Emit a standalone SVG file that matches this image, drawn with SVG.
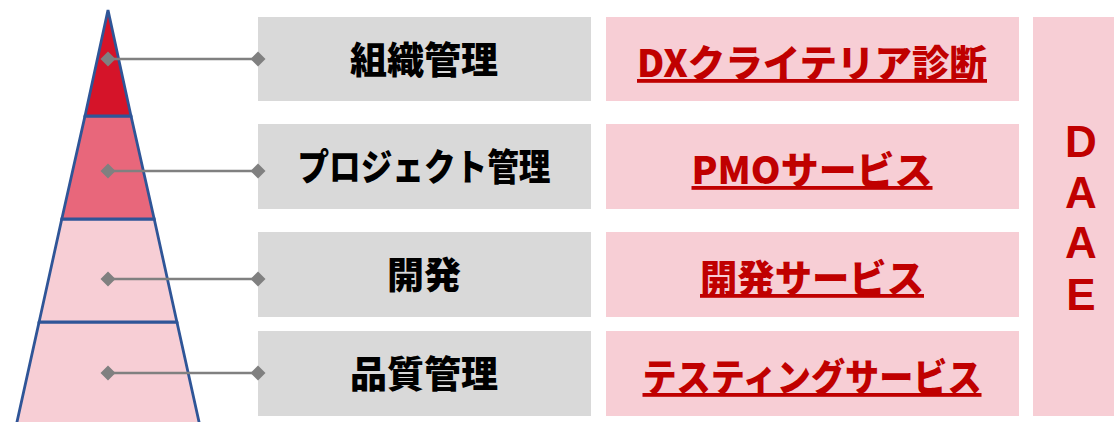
<svg xmlns="http://www.w3.org/2000/svg" width="1114" height="422" viewBox="0 0 1114 422">
<style>
.layer{stroke:#2F5597;stroke-width:2.8;stroke-linejoin:miter}
.gbox{fill:#D9D9D9}
.pbox{fill:#F7CED5}
.lbl{font-family:"Noto Sans CJK JP","Noto Sans",sans-serif;font-weight:900;font-size:37px;fill:#000;text-anchor:middle}
.svc{font-family:"Noto Sans CJK JP","Noto Sans",sans-serif;font-weight:900;font-size:38px;fill:#C00000;text-anchor:middle;text-decoration:underline}
.side{font-family:"Liberation Sans","Noto Sans",sans-serif;font-weight:bold;font-size:44px;fill:#C00000;text-anchor:middle}
.conn{stroke:#808080;stroke-width:2.5;fill:none;marker-start:url(#dia);marker-end:url(#dia)}
</style>
<defs>
<marker id="dia" viewBox="-8 -8 16 16" markerWidth="16" markerHeight="16" refX="0" refY="0" markerUnits="userSpaceOnUse" orient="auto">
<path d="M-7.5 0L0 -7.5L7.5 0L0 7.5Z" fill="#808080"/>
</marker>
</defs>
<g id="pyramid">
<polygon class="layer" points="39.1,322 176.9,322 200.8,430 15.2,430" fill="#F7CED5"/>
<polygon class="layer" points="61.8,219 154.2,219 176.9,322 39.1,322" fill="#F7CED5"/>
<polygon class="layer" points="85,116 131,116 154.2,219 61.8,219" fill="#E8677B"/>
<polygon class="layer" points="108,10 131,116 85,116" fill="#D51429"/>
</g>
<g id="row1">
<rect class="gbox" x="258" y="17" width="333" height="84"/>
<text class="lbl" x="424" y="74">組織管理</text>
</g>
<g id="row2">
<rect class="gbox" x="258" y="124" width="333" height="85"/>
<text class="lbl" x="424" y="181" textLength="253" lengthAdjust="spacingAndGlyphs">プロジェクト管理</text>
</g>
<g id="row3">
<rect class="gbox" x="258" y="232" width="333" height="85"/>
<text class="lbl" x="424" y="289">開発</text>
</g>
<g id="row4">
<rect class="gbox" x="258" y="331" width="333" height="85"/>
<text class="lbl" x="424" y="388">品質管理</text>
</g>
<g id="svc1">
<rect class="pbox" x="606" y="17" width="413" height="84"/>
<text class="svc" x="812" y="77" textLength="350" lengthAdjust="spacingAndGlyphs">DXクライテリア診断</text>
</g>
<g id="svc2">
<rect class="pbox" x="606" y="124" width="413" height="85"/>
<text class="svc" x="812" y="184" textLength="241" lengthAdjust="spacingAndGlyphs">PMOサービス</text>
</g>
<g id="svc3">
<rect class="pbox" x="606" y="232" width="413" height="85"/>
<text class="svc" x="812" y="292" textLength="224" lengthAdjust="spacingAndGlyphs">開発サービス</text>
</g>
<g id="svc4">
<rect class="pbox" x="606" y="331" width="413" height="85"/>
<text class="svc" x="812" y="391" textLength="339" lengthAdjust="spacingAndGlyphs">テスティングサービス</text>
</g>
<g id="daae">
<rect class="pbox" x="1033" y="17" width="100" height="399"/>
<text class="side" x="1081" y="157">D</text>
<text class="side" x="1081" y="208">A</text>
<text class="side" x="1081" y="258">A</text>
<text class="side" x="1081" y="310">E</text>
</g>
<g id="connectors">
<line class="conn" x1="108" y1="59" x2="258" y2="59"/>
<line class="conn" x1="108" y1="171" x2="258" y2="171"/>
<line class="conn" x1="108" y1="279" x2="258" y2="279"/>
<line class="conn" x1="108" y1="373" x2="258" y2="373"/>
</g>
</svg>
